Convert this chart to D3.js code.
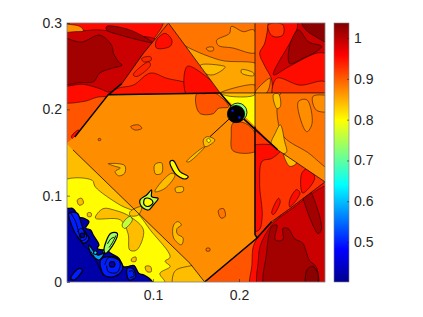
<!DOCTYPE html>
<html>
<head>
<meta charset="utf-8">
<script src="https://cdn.jsdelivr.net/npm/d3@7"></script>
<style>
  html, body { margin: 0; background: #fff; }
  text { font-family: "Liberation Sans", Arial, sans-serif; }
</style>
</head>
<body>
<script>
// density range of the colorbar
const colorMin = 0.402;
const colorMax = 1.037;
const xTicks = [0.1, 0.2];
const yTicks = [0, 0.1, 0.2, 0.3];
const colorTicks = [0.5, 0.6, 0.7, 0.8, 0.9, 1];

// regions between the shocks, [x, y] in domain units
const regionValues = [0.905, 0.925, 0.885, 0.95, 0.80, 0.87, 0.87, 0.925, 0.905, 0.84];
const regionOutlines = [
  [[0,.161],[.009,.168],[.048,.217],[.064,.230],[.089,.265],[.118,.300],[0,.300]],
  [[.048,.217],[.064,.230],[.089,.265],[.118,.300],[.178,.219]],
  [[.118,.300],[.2186,.300],[.2186,.219],[.178,.219]],
  [[.2186,.300],[.300,.300],[.300,.219],[.2186,.219]],
  [[.178,.219],[.2186,.219],[.2186,.180]],
  [[0,.160],[.009,.168],[.048,.217],[.178,.219],[.2186,.180],[.2186,.055],[.221,.051],[.160,0],[.143,.0216],[.007,.153]],
  [[.2186,.219],[.300,.219],[.300,.116],[.245,.153],[.2186,.180]],
  [[.2186,.180],[.245,.153],[.300,.116],[.259,.085],[.238,.070],[.221,.051],[.2186,.055]],
  [[.160,0],[.221,.051],[.238,.070],[.259,.085],[.300,.116],[.300,0]],
  [[0,.160],[.007,.153],[.143,.0216],[.160,0],[0,0]]
];

// contour islands inside each region, painted in order and clipped to it
const contourValues = [
  [.95, .99, 1.015, 1.015, .87, .95],
  [.95, .945, .935, .935, .95],
  [.855, .87, .87, .84, .84, .87],
  [.905, .925, .99, 1.015, 1.03, .925, .87],
  [.84],
  [.905, .905, .885, .885, .885, .885, .84, .84, .84, .84],
  [.885, .84, .84, .87, .87],
  [.95, .95, .95, .95, .84],
  [.95, .99, 1.015, 1.03, 1.015],
  [.80, .84, .84, .84, .84, .84, .84]
];
const contourOutlines = [
  [
    [[-.01,.211],[.019,.209],[.035,.214],[.054,.217],[.081,.250],[.097,.276],[.112,.300],[.11,.31],[-.01,.31]],
    [[-.01,.229],[.019,.229],[.038,.224],[.050,.220],[.064,.230],[.089,.265],[.104,.280],[.077,.286],[.038,.292],[.019,.291],[-.01,.290]],
    [[-.01,.282],[.017,.278],[.038,.286],[.052,.274],[.054,.265],[.060,.255],[.064,.251],[.054,.248],[.038,.242],[.031,.232],[.015,.231],[-.01,.230]],
    [[.046,.296],[.073,.292],[.100,.277],[.089,.279],[.062,.286],[.046,.292]],
    [[-.01,.297],[.015,.296],[.019,.291],[.009,.290],[-.01,.290]],
    [[.005,.168],[.013,.176],[.015,.174],[.009,.165]]
  ],
  [
    [[.104,.280],[.114,.288],[.122,.280],[.120,.273],[.104,.271]],
    [[.058,.224],[.077,.228],[.097,.242],[.116,.236],[.143,.228],[.143,.215],[.077,.215],[.05,.215]],
    [[.087,.259],[.097,.261],[.098,.257],[.089,.255]],
    [[.077,.240],[.095,.255],[.097,.251],[.081,.238]],
    [[.14,.25],[.18,.22],[.18,.215],[.14,.215]]
  ],
  [
    [[.135,.275],[.178,.257],[.225,.250],[.225,.21],[.17,.21],[.13,.28]],
    [[.174,.280],[.189,.288],[.191,.296],[.205,.290],[.217,.292],[.225,.27],[.217,.265],[.193,.271],[.176,.274]],
    [[.162,.271],[.170,.272],[.170,.268],[.164,.268]],
    [[.155,.251],[.178,.251],[.184,.249],[.170,.240],[.160,.242]],
    [[.203,.246],[.217,.242],[.217,.239],[.203,.242]],
    [[.178,.219],[.2186,.228],[.2186,.219]]
  ],
  [
    [[.215,.31],[.232,.31],[.230,.277],[.224,.265],[.230,.250],[.238,.234],[.236,.215],[.215,.215]],
    [[.244,.236],[.271,.228],[.30,.232],[.31,.215],[.24,.215]],
    [[.240,.240],[.267,.292],[.271,.31],[.31,.31],[.31,.267],[.290,.265],[.259,.250]],
    [[.259,.274],[.269,.292],[.281,.278],[.296,.273],[.29,.267],[.274,.259],[.259,.253]],
    [[.271,.31],[.31,.31],[.31,.276],[.286,.286],[.276,.294]],
    [[.234,.298],[.251,.298],[.251,.286],[.241,.284],[.236,.288]],
    [[.2186,.219],[.236,.236],[.232,.219]]
  ],
  [
    [[.178,.219],[.2186,.225],[.2186,.217],[.19,.215]]
  ],
  [
    [[.151,.218],[.160,.218],[.170,.22],[.188,.203],[.176,.201],[.170,.195],[.155,.195],[.150,.205]],
    [[.193,.184],[.207,.184],[.219,.172],[.22,.152],[.193,.152],[.191,.17]],
    [[.074,.180],[.083,.182],[.087,.178],[.079,.176]],
    [[.0365,.166],[.039,.166],[.039,.164],[.0365,.164]],
    [[.176,.083],[.182,.085],[.184,.076],[.179,.074]],
    [[.162,.039],[.166,.039],[.166,.036],[.162,.036]],
    [[.048,.137],[.067,.135],[.067,.126],[.060,.123],[.056,.128],[.062,.132],[.056,.134]],
    [[.102,.136],[.110,.138],[.110,.126],[.103,.125]],
    [[.126,.109],[.135,.110],[.135,.105],[.127,.104]],
    [[.124,.066],[.129,.070],[.133,.066],[.128,.062],[.128,.056],[.135,.051],[.133,.043],[.124,.051]]
  ],
  [
    [[.2496,.22],[.31,.22],[.31,.13],[.28,.15],[.2496,.172]],
    [[.237,.160],[.242,.172],[.248,.182],[.253,.163],[.255,.150],[.24,.150]],
    [[.240,.217],[.246,.218],[.248,.203],[.244,.201]],
    [[.269,.209],[.279,.211],[.285,.184],[.279,.174],[.273,.184]],
    [[.286,.215],[.31,.213],[.31,.199],[.290,.199]]
  ],
  [
    [[.21,.155],[.25,.155],[.238,.143],[.227,.140],[.224,.114],[.227,.076],[.223,.060],[.21,.06]],
    [[.259,.095],[.267,.107],[.271,.103],[.259,.087]],
    [[.238,.080],[.246,.097],[.248,.093],[.240,.078]],
    [[.273,.126],[.281,.132],[.288,.120],[.274,.103]],
    [[.252,.150],[.259,.150],[.267,.138],[.259,.134]]
  ],
  [
    [[.215,-.01],[.215,.02],[.218,.045],[.238,.068],[.31,.12],[.31,-.01]],
    [[.2244,-.01],[.2225,.0255],[.225,.043],[.238,.066],[.259,.083],[.31,.112],[.31,-.01]],
    [[.231,-.01],[.232,.033],[.238,.064],[.244,.066],[.242,.049],[.251,.049],[.251,.062],[.257,.062],[.265,.050],[.274,.045],[.282,.025],[.290,.017],[.290,-.01]],
    [[.279,.014],[.286,.018],[.292,.008],[.288,-.01],[.279,-.01]],
    [[.271,.116],[.277,.116],[.296,.062],[.292,.056]]
  ],
  [
    [[-.01,.114],[.029,.118],[.033,.110],[.062,.089],[.081,.080],[.097,.060],[.120,.029],[.114,.024],[.120,.018],[.108,.010],[.114,0],[.114,-.01],[-.01,-.01]],
    [[.033,.074],[.042,.085],[.056,.083],[.073,.076],[.089,.060],[.081,.037],[.073,.037],[.071,.056],[.062,.072]],
    [[.012,.095],[.017,.097],[.019,.091],[.014,.089]],
    [[.091,.018],[.097,.018],[.098,.012],[.093,.012]],
    [[.075,.027],[.080,.029],[.080,.024],[.075,.024]],
    [[.024,.080],[.028,.080],[.028,.076],[.024,.076]],
    [[.125,.012],[.140,.018],[.165,.018],[.165,-.01],[.125,-.01]]
  ]
];

// slender jets, thin outlines like the other contours
const filamentValues = [.84, .84, .84, .84, .80, .76];
const filamentOutlines = [
  [[.1217,.1259],[.1256,.124],[.114,.1085],[.1023,.1046],[.1101,.1163]],
  [[.0733,.0815],[.0868,.0873],[.083,.0776],[.0733,.0769]],
  [[.1566,.1549],[.139,.1394],[.1422,.1394],[.1605,.1568]],
  [[.1585,.1645],[.1632,.1684],[.172,.1645],[.166,.1587],[.1605,.1568]],
  [[.1625,.1645],[.1645,.1665],[.167,.1635],[.1645,.1615]],
  [[.064,.066],[.073,.076],[.076,.072],[.067,.062]]
];

// rolled-up interface and vortex heads, heavier outlines
const rollupValues = [.42, .50, .50, .50, .58, .42, .42, .62, .62, .50, .74, .80, .76, .80];
const rollupOutlines = [
  [[-.01,.092],[.0004,.0854],[.0062,.0854],[.010,.0815],[.012,.0757],[.0198,.0738],[.0256,.0699],[.0217,.0622],[.0275,.0602],[.0306,.0544],[.0372,.0429],[.0353,.039],[.041,.0371],[.045,.0379],[.051,.0332],[.0605,.0274],[.0655,.0178],[.070,.0178],[.078,.019],[.0837,.0100],[.0895,.0081],[.0992,.0004],[.1,-.01],[-.01,-.01]],
  [[.0023,.0796],[.012,.0796],[.016,.0699],[.020,.0583],[.0256,.0506],[.020,.0448],[.012,.0525],[.006,.0641]],
  [[.039,.0255],[.049,.0294],[.0624,.0236],[.0643,.0139],[.0547,.0062],[.043,.0081]],
  [[.070,.0158],[.076,.0158],[.080,.0062],[.072,.0023]],
  [[.0256,.0429],[.0353,.0313],[.043,.0332],[.0372,.0255],[.0275,.0332]],
  [[.016,.056],[.020,.056],[.020,.052],[.016,.052]],
  [[.050,.023],[.055,.023],[.055,.018],[.050,.018]],
  [[.042,.037],[.046,.036],[.045,.033],[.042,.034]],
  [[.032,.036],[.035,.035],[.034,.032],[.031,.033]],
  [[.0043,.0042],[.0140,.0158],[.018,.0139],[.008,.0023]],
  [[.043,.037],[.051,.0564],[.0585,.0564],[.0547,.0448],[.045,.0332]],
  [[.1198,.1394],[.1236,.1406],[.1314,.1279],[.141,.122],[.137,.1193],[.1256,.1259]],
  [[.0849,.095],[.0926,.1008],[.0984,.1066],[.0984,.0988],[.106,.097],[.1004,.0892],[.0946,.0834],[.0868,.0873]],
  [[.0905,.0965],[.0965,.0965],[.100,.092],[.0945,.0875],[.0895,.090]]
];

// dark spiral arms inside the rolled-up region, and the jet leaving the vortex
const swirlLines = [
  [[.012,.058],[.016,.062],[.022,.058],[.022,.050],[.016,.048],[.012,.052]],
  [[.044,.020],[.048,.028],[.057,.029],[.062,.021],[.058,.011],[.048,.012],[.046,.019]],
  [[.003,.082],[.010,.070],[.013,.060],[.018,.044],[.028,.035],[.036,.020],[.042,.008]],
  [[.072,.012],[.076,.013],[.078,.007],[.073,.005]],
  [[.047,.044],[.051,.050],[.055,.052]],
  [[.049,.040],[.053,.046],[.057,.054]],
  [[.1895,.1897],[.1663,.1684]]
];

// shock lines
const strongShocks = [
  [[.009,.168],[.048,.217],[.064,.230]],
  [[.178,.219],[.1965,.197],[.245,.153]],
  [[.2186,.18],[.2186,.055],[.221,.051]],
  [[.160,0],[.221,.051],[.238,.070]],
  [[.048,.217],[.178,.219]]
];
const weakShocks = [
  [[.064,.230],[.089,.265],[.118,.300]],
  [[.245,.153],[.300,.116]],
  [[.238,.070],[.259,.085],[.300,.116]],
  [[.178,.219],[.300,.219]],
  [[.2186,.300],[.2186,.18]],
  [[.118,.300],[.178,.219]],
  [[.007,.153],[.143,.0216],[.160,0]]
];

// triple point vortex: x, y, radius, value
const vortexDiscs = [
  [.1985, .1965, .0108, .72],
  [.1965, .1945, .0100, .41]
];
const vortexSpots = [[.1925, .1985], [.2005, .1905]];

const svg = d3.select('body').append('svg').attr('width', 423).attr('height', 317);

const x = d3.scaleLinear().domain([0, 0.3]).range([67, 325]);
const y = d3.scaleLinear().domain([0, 0.3]).range([282, 23]);
const colorY = d3.scaleLinear().domain([colorMin, colorMax]).range([282, 23]);

// MATLAB jet, stops given as a fraction of the range
const jetStops = [0, 0.125, 0.375, 0.625, 0.875, 1];
const jetColors = ['#00008f', '#0000ff', '#00ffff', '#ffff00', '#ff0000', '#800000'];
const jet = d3.scaleLinear()
  .domain(jetStops.map(t => colorMin + t * (colorMax - colorMin)))
  .range(jetColors)
  .clamp(true);

const sharp = d3.line().x(d => x(d[0])).y(d => y(d[1])).curve(d3.curveLinearClosed);
const smooth = d3.line().x(d => x(d[0])).y(d => y(d[1])).curve(d3.curveCatmullRomClosed.alpha(0.5));
const open = d3.line().x(d => x(d[0])).y(d => y(d[1]));
const openSmooth = d3.line().x(d => x(d[0])).y(d => y(d[1])).curve(d3.curveCatmullRom.alpha(0.5));

const defs = svg.append('defs');
defs.append('clipPath').attr('id', 'plotClip').append('rect')
  .attr('x', x(0)).attr('y', y(0.3)).attr('width', x(0.3) - x(0)).attr('height', y(0) - y(0.3));

const plot = svg.append('g').attr('clip-path', 'url(#plotClip)');

// keeps slivers between regions from showing white
plot.append('rect')
  .attr('x', x(0)).attr('y', y(0.3)).attr('width', x(0.3) - x(0)).attr('height', y(0) - y(0.3))
  .attr('fill', jet(0.87));

regionOutlines.forEach((outline, i) => {
  defs.append('clipPath').attr('id', `region${i}`).append('path').attr('d', sharp(outline));
  const g = plot.append('g').attr('clip-path', `url(#region${i})`);
  g.append('path').attr('d', sharp(outline)).attr('fill', jet(regionValues[i]));
  g.selectAll('path.contour')
    .data(contourOutlines[i])
    .join('path')
    .attr('class', 'contour')
    .attr('d', smooth)
    .attr('fill', (d, j) => jet(contourValues[i][j]))
    .attr('stroke', '#000')
    .attr('stroke-opacity', 0.72)
    .attr('stroke-width', 0.7);
});

plot.selectAll('path.filament')
  .data(filamentOutlines)
  .join('path')
  .attr('class', 'filament')
  .attr('d', smooth)
  .attr('fill', (d, i) => jet(filamentValues[i]))
  .attr('stroke', '#000')
  .attr('stroke-opacity', 0.72)
  .attr('stroke-width', 0.7);

plot.selectAll('path.rollup')
  .data(rollupOutlines)
  .join('path')
  .attr('class', 'rollup')
  .attr('d', smooth)
  .attr('fill', (d, i) => jet(rollupValues[i]))
  .attr('stroke', '#000')
  .attr('stroke-width', 1.2);

plot.selectAll('path.swirl')
  .data(swirlLines)
  .join('path')
  .attr('class', 'swirl')
  .attr('d', openSmooth)
  .attr('fill', 'none')
  .attr('stroke', '#000')
  .attr('stroke-width', 0.9);

plot.selectAll('path.weak')
  .data(weakShocks)
  .join('path')
  .attr('class', 'weak')
  .attr('d', open)
  .attr('fill', 'none')
  .attr('stroke', '#000')
  .attr('stroke-opacity', 0.8)
  .attr('stroke-width', 0.9);

plot.selectAll('path.strong')
  .data(strongShocks)
  .join('path')
  .attr('class', 'strong')
  .attr('d', open)
  .attr('fill', 'none')
  .attr('stroke', '#000')
  .attr('stroke-width', 1.5);

plot.selectAll('circle.disc')
  .data(vortexDiscs)
  .join('circle')
  .attr('class', 'disc')
  .attr('cx', d => x(d[0]))
  .attr('cy', d => y(d[1]))
  .attr('r', d => x(d[2]) - x(0))
  .attr('fill', d => d[3] < 0.5 ? '#000' : jet(d[3]))
  .attr('stroke', '#000')
  .attr('stroke-width', 0.8);

plot.selectAll('circle.spot')
  .data(vortexSpots)
  .join('circle')
  .attr('class', 'spot')
  .attr('cx', d => x(d[0]))
  .attr('cy', d => y(d[1]))
  .attr('r', 1.2)
  .attr('fill', jet(0.5));

// axes box
const axisColor = '#262626';
svg.append('rect')
  .attr('x', x(0)).attr('y', y(0.3))
  .attr('width', x(0.3) - x(0)).attr('height', y(0) - y(0.3))
  .attr('fill', 'none').attr('stroke', '#7f7f7f').attr('stroke-width', 0.8);

const xAxis = svg.append('g').attr('transform', `translate(0,${y(0)})`)
  .call(d3.axisBottom(x).tickValues(xTicks).tickFormat(d3.format('.1f')).tickSize(-3).tickPadding(8));
const yAxis = svg.append('g').attr('transform', `translate(${x(0)},0)`)
  .call(d3.axisLeft(y).tickValues(yTicks).tickFormat(d => d === 0 ? '0' : d3.format('.1f')(d)).tickSize(-3).tickPadding(5));

// colorbar
const gradient = defs.append('linearGradient').attr('id', 'jetBar')
  .attr('x1', 0).attr('x2', 0).attr('y1', 1).attr('y2', 0);
gradient.selectAll('stop')
  .data(jetStops)
  .join('stop')
  .attr('offset', d => d)
  .attr('stop-color', (d, i) => jetColors[i]);

svg.append('rect')
  .attr('x', 334).attr('y', colorY(colorMax))
  .attr('width', 15).attr('height', colorY(colorMin) - colorY(colorMax))
  .attr('fill', 'url(#jetBar)')
  .attr('stroke', '#7f7f7f').attr('stroke-width', 0.6);

const colorAxis = svg.append('g').attr('transform', 'translate(349,0)')
  .call(d3.axisRight(colorY).tickValues(colorTicks).tickFormat(d => d === 1 ? '1' : d3.format('.1f')(d)).tickSize(-2).tickPadding(5));

[xAxis, yAxis, colorAxis].forEach(a => {
  a.select('.domain').remove();
  a.selectAll('line').attr('stroke', axisColor).attr('stroke-width', 0.6);
  a.selectAll('text').attr('fill', axisColor).attr('font-size', 14);
});
</script>
</body>
</html>
